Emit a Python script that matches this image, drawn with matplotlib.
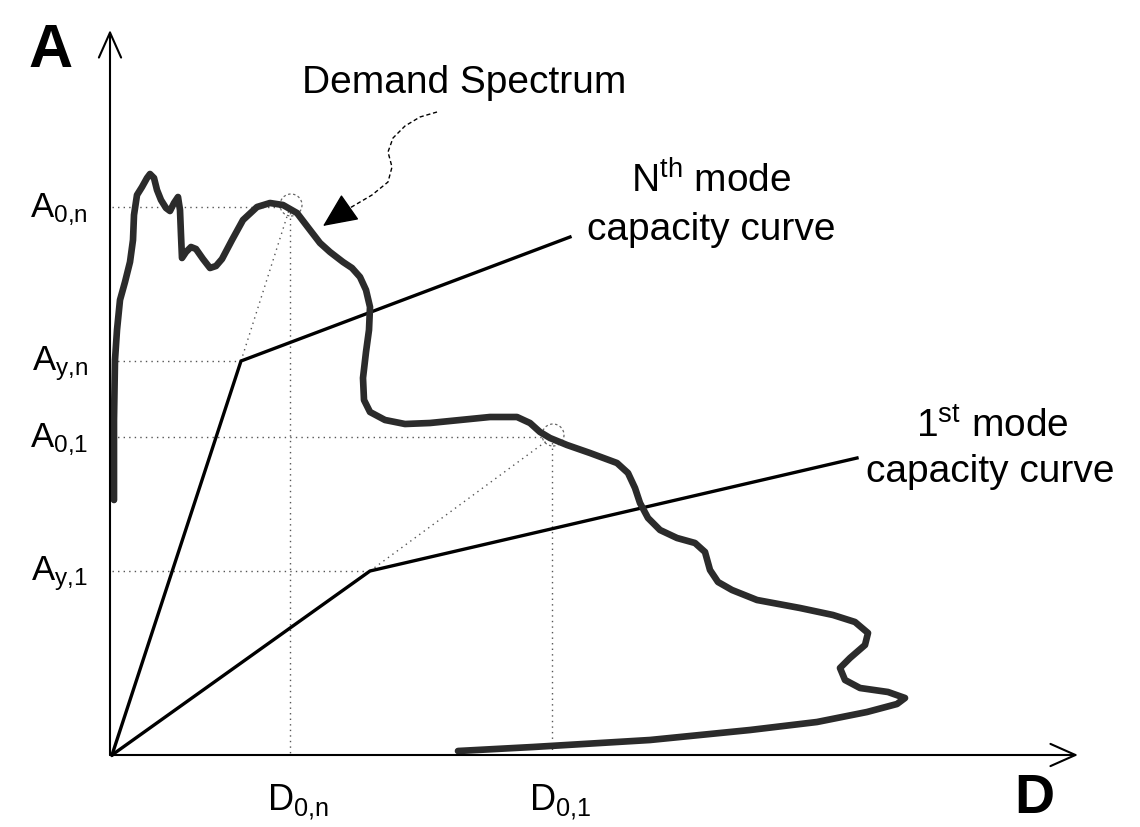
import matplotlib
matplotlib.use("Agg")
import matplotlib.pyplot as plt
from matplotlib.patches import Circle

plt.rcParams["font.family"] = ["Liberation Sans", "DejaVu Sans"]
plt.rcParams["mathtext.fontset"] = "custom"
plt.rcParams["mathtext.rm"] = "Liberation Sans"
plt.rcParams["mathtext.it"] = "Liberation Sans:italic"
plt.rcParams["mathtext.bf"] = "Liberation Sans:bold"

# Demand spectrum in acceleration-displacement format (D, A)
spectrum_D = [2, 2, 3, 5, 8, 13, 18, 21, 22, 25, 30, 35, 38, 42, 45, 49, 54, 58, 62, 66,
              68, 69, 70, 74, 79, 84, 91, 98, 104, 110, 120, 131, 145, 158, 171, 185,
              198, 208, 218, 231, 240, 248, 254, 258, 257, 254, 251, 252, 258, 273, 293,
              318, 348, 378, 405, 418, 428, 438, 455, 478, 505, 516, 523, 528, 536, 548,
              565, 583, 593, 598, 606, 620, 645, 688, 721, 743, 756, 753, 738, 728, 733,
              748, 776, 793, 785, 755, 705, 638, 588, 538, 488, 421, 346]
spectrum_A = [255, 335, 395, 425, 455, 473, 493, 515, 540, 560, 568, 577, 581, 577, 565,
              555, 547, 544, 552, 558, 545, 520, 497, 503, 508, 506, 496, 487, 489, 496,
              515, 535, 548, 552, 550, 542, 525, 512, 503, 493, 487, 478, 465, 448, 425,
              403, 377, 355, 343, 335, 331, 332, 335, 338, 338, 332, 323, 317, 310, 302,
              292, 282, 267, 252, 237, 225, 217, 212, 203, 185, 173, 165, 155, 147, 140,
              133, 122, 110, 97, 87, 75, 67, 63, 57, 51, 43, 33, 25, 20, 15, 12, 8, 4]

# Bilinear capacity curves: origin, yield point, end point
cap_n_D = [0, 129, 458]
cap_n_A = [0, 394, 518]
cap_1_D = [0, 258, 745]
cap_1_A = [0, 184, 297]

# Performance points (intersection with demand)
perf_n = (178, 548)
perf_1 = (440, 318)

# Leader line of the "Demand Spectrum" callout and its arrow tip
leader_D = [325, 308, 293, 281, 276, 280, 276, 260, 243, 231]
leader_A = [643, 638, 629, 617, 603, 588, 573, 560, 550, 543]
leader_tip = (211, 529)

x_axis_end = 966
y_axis_end = 725

fig = plt.figure(figsize=(11.4, 8.27), dpi=100)
ax = fig.add_axes([0, 0, 1, 1])
ax.set_xlim(-112, 1028)
ax.set_ylim(-72, 755)
ax.axis("off")

dot = dict(color="#555555", lw=1.0, linestyle=(0, (1, 3)))

# Reference lines to the axes
ax.plot([0, perf_n[0]], [perf_n[1], perf_n[1]], **dot)
ax.plot([perf_n[0], perf_n[0]], [perf_n[1], 0], **dot)
ax.plot([0, perf_1[0]], [perf_1[1], perf_1[1]], **dot)
ax.plot([perf_1[0], perf_1[0]], [perf_1[1], 0], **dot)
ax.plot([0, cap_n_D[1]], [cap_n_A[1], cap_n_A[1]], **dot)
ax.plot([0, cap_1_D[1]], [cap_1_A[1], cap_1_A[1]], **dot)
# Elastic extensions from yield to performance points
ax.plot([cap_n_D[1], perf_n[0]], [cap_n_A[1], perf_n[1]], **dot)
ax.plot([cap_1_D[1], perf_1[0]], [cap_1_A[1], perf_1[1]], **dot)

for p in (perf_n, perf_1):
    ax.add_patch(Circle((p[0] + 1, p[1] + 2), 11, fill=False, ec="#666666",
                        lw=0.9, linestyle=(0, (2, 2))))

# Capacity curves
ax.plot(cap_n_D, cap_n_A, color="black", lw=2.4, solid_joinstyle="miter")
ax.plot(cap_1_D, cap_1_A, color="black", lw=2.4, solid_joinstyle="miter")

# Demand spectrum
ax.plot(spectrum_D, spectrum_A, color="#2b2b2b", lw=4.8,
        solid_joinstyle="round", solid_capstyle="round")

# Axes with open arrowheads
axis_arrow = dict(arrowstyle="->,head_length=0.9,head_width=0.4", mutation_scale=20,
                  color="black", lw=1.5, shrinkA=0, shrinkB=0)
ax.annotate("", xy=(-2, y_axis_end), xytext=(-2, 0), arrowprops=axis_arrow)
ax.annotate("", xy=(x_axis_end, 0), xytext=(-2, 0), arrowprops=axis_arrow)

# Callout leader
ax.plot(leader_D, leader_A, color="black", lw=1.0, linestyle=(0, (3, 2)))
ax.annotate("", xy=leader_tip, xytext=(leader_D[-1], leader_A[-1]),
            arrowprops=dict(arrowstyle="-|>,head_length=1.1,head_width=0.5",
                            mutation_scale=20, color="black", lw=1.0,
                            shrinkA=0, shrinkB=0))

# Axis titles
ax.text(-61, 688, "A", fontsize=44, fontweight="bold", ha="center", va="baseline")
ax.text(922, -70, "D", fontsize=40, fontweight="bold", ha="center", va="bottom")

# Axis value labels
a_labels = [r"A$_{\mathrm{0{,}n}}$", r"A$_{\mathrm{y{,}n}}$",
            r"A$_{\mathrm{0{,}1}}$", r"A$_{\mathrm{y{,}1}}$"]
a_values = [perf_n[1], cap_n_A[1], perf_1[1], cap_1_A[1]]
for lab, val in zip(a_labels, a_values):
    ax.text(-24, val - 3, lab, fontsize=25, ha="right", va="center")

d_labels = [r"D$_{\mathrm{0{,}n}}$", r"D$_{\mathrm{0{,}1}}$"]
d_values = [perf_n[0], perf_1[0]]
for lab, val in zip(d_labels, d_values):
    ax.text(val + 8, -47, lab, fontsize=26, ha="center", va="center")

# Annotations
ax.text(352, 662, "Demand Spectrum", fontsize=28, ha="center", va="baseline")
ax.text(599, 562, r"N$^{\mathrm{th}}$ mode", fontsize=28, ha="center", va="baseline")
ax.text(599, 515, "capacity curve", fontsize=28, ha="center", va="baseline")
ax.text(880, 318, r"1$^{\mathrm{st}}$ mode", fontsize=28, ha="center", va="baseline")
ax.text(878, 273, "capacity curve", fontsize=28, ha="center", va="baseline")

fig.savefig("out.png", dpi=100, facecolor="white")
